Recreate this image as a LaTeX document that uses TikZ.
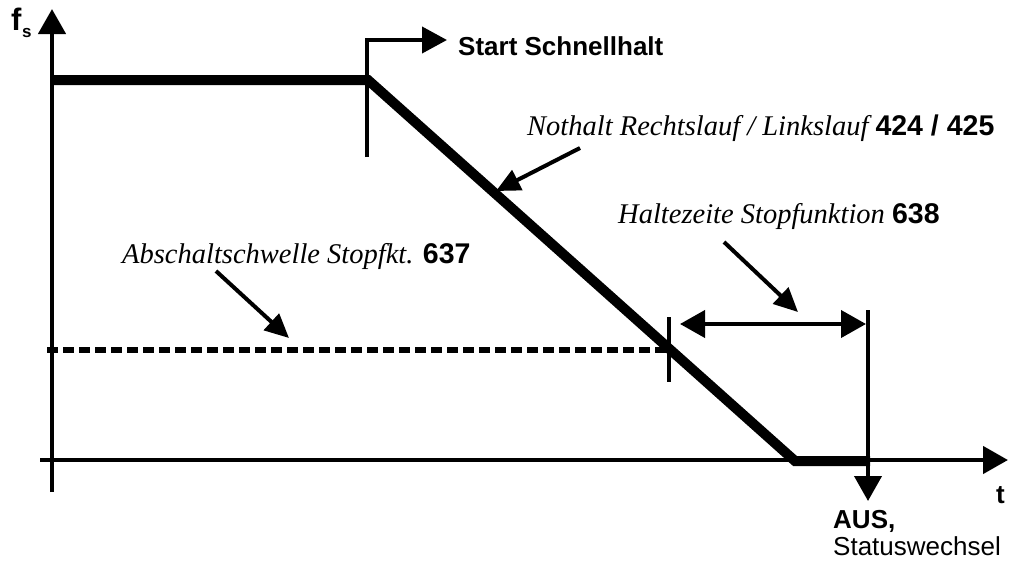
\documentclass[tikz,border=0pt]{standalone}
\usepackage{fontspec}
\setmainfont{Liberation Serif}
\setsansfont{Liberation Sans}
\usetikzlibrary{arrows.meta}
\begin{document}
\begin{tikzpicture}[x=1pt,y=-1pt,
  ax/.style={line width=4.5pt,-{Triangle[length=25pt,width=27pt]}},
  curve/.style={line width=10pt,line join=miter},
  thinline/.style={line width=4pt},
  callout/.style={line width=4pt,-{Triangle[length=24pt,width=22pt]}},
  lbl/.style={anchor=base west,inner sep=0pt,font=\fontsize{28.5}{32}\selectfont},
  sb/.style={anchor=base west,inner sep=0pt,font=\fontsize{26}{30}\selectfont\sffamily\bfseries}
]
\useasboundingbox (0,0) rectangle (1011,562);
% axes
\coordinate (yb) at (52,492);
\coordinate (yt) at (52,9);
\coordinate (xl) at (40,460);
\coordinate (xr) at (1008,460);
\draw[ax] (yb) -- (yt);
\draw[ax] (xl) -- (xr);
% speed curve
\coordinate (c0) at (52,80);
\coordinate (c1) at (368,80);
\coordinate (c2) at (795,461);
\coordinate (c3) at (870,461);
\draw[curve] (c0) -- (c1) -- (c2) -- (c3);
% start marker
\coordinate (s0) at (367,157);
\coordinate (s1) at (367,40);
\coordinate (s2) at (447,40);
\draw[thinline,-{Triangle[length=25pt,width=26pt]}] (s0) -- (s1) -- (s2);
\node[sb] (start) at (458,55) {Start Schnellhalt};
% Nothalt label
\node[lbl] (noth) at (527,135) {\itshape Nothalt Rechtslauf / Linkslauf \sffamily\bfseries\upshape 424 / 425};
\coordinate (n0) at (580,148);
\coordinate (n1) at (496,191);
\draw[callout] (n0) -- (n1);
% threshold
\coordinate (d0) at (47,350);
\coordinate (d1) at (669,350);
\draw[line width=6pt,dash pattern=on 11pt off 5pt] (d0) -- (d1);
\coordinate (k0) at (669,317);
\coordinate (k1) at (669,382);
\draw[thinline] (k0) -- (k1);
\node[lbl] (absch) at (122,263) {\itshape Abschaltschwelle Stopfkt. \sffamily\bfseries\upshape 637};
\coordinate (a0) at (216,271);
\coordinate (a1) at (289,338);
\draw[callout] (a0) -- (a1);
% hold time
\node[lbl] (halt) at (618,223) {\itshape Haltezeite Stopfunktion \sffamily\bfseries\upshape 638};
\coordinate (h0) at (724,242);
\coordinate (h1) at (798,312);
\draw[callout] (h0) -- (h1);
\coordinate (b0) at (680,324);
\coordinate (b1) at (866,324);
\draw[thinline,{Triangle[length=25pt,width=27pt]}-{Triangle[length=25pt,width=27pt]}] (b0) -- (b1);
\coordinate (v0) at (868,310);
\coordinate (v1) at (868,501);
\draw[thinline,-{Triangle[length=25pt,width=27pt]}] (v0) -- (v1);
% labels
\node[sb] (taxis) at (996,503) {t};
\node[anchor=base west,inner sep=0pt,font=\fontsize{31}{34}\selectfont\sffamily\bfseries] (fs) at (11,30) {f};
\node[anchor=base west,inner sep=0pt,font=\fontsize{17}{18}\selectfont\sffamily\bfseries] (fsub) at (22,37) {s};
\node[sb] (aus) at (833,528) {AUS,};
\node[anchor=base west,inner sep=0pt,font=\fontsize{26}{30}\selectfont\sffamily] (stat) at (833,555) {Statuswechsel};
\end{tikzpicture}
\end{document}
